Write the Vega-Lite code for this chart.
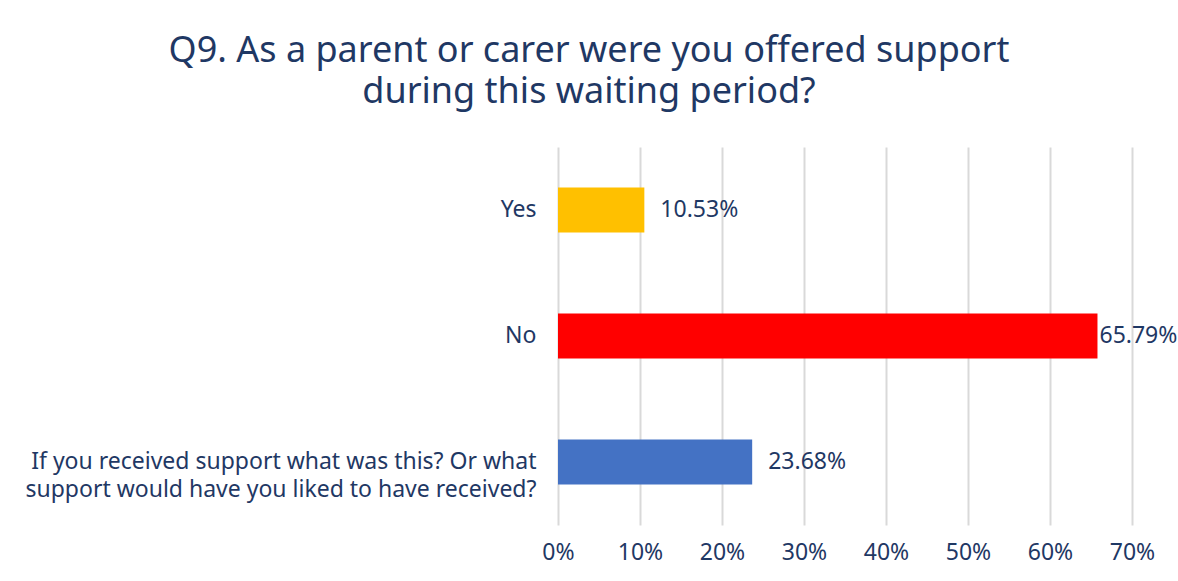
{
  "$schema": "https://vega.github.io/schema/vega-lite/v6.json",
  "autosize": {"type": "none"},
  "width": 574,
  "height": 378,
  "padding": {"left": 558, "top": 147, "right": 46, "bottom": 56},
  "background": "white",
  "title": {
    "text": ["Q9. As a parent or carer were you offered support", "during this waiting period?"],
    "anchor": "middle",
    "frame": "group",
    "dx": -256,
    "offset": 8,
    "font": "Noto Sans",
    "fontSize": 36,
    "fontWeight": "normal",
    "color": "#1F3864",
    "lineHeight": 41,
    "baseline": "alphabetic"
  },
  "data": {
    "values": [
      {"answer": "Yes", "share": 0.1053, "label": "10.53%"},
      {"answer": "No", "share": 0.6579, "label": "65.79%"},
      {"answer": "If you received support what was this? Or what support would have you liked to have received?", "share": 0.2368, "label": "23.68%"}
    ]
  },
  "encoding": {
    "y": {
      "field": "answer",
      "type": "nominal",
      "sort": null,
      "title": null,
      "scale": {"paddingInner": 0.643, "paddingOuter": 0.3215},
      "axis": {
        "domain": false,
        "ticks": false,
        "labelPadding": 22,
        "labelFont": "Noto Sans",
        "labelFontSize": 23,
        "labelColor": "#1F3864",
        "labelLineHeight": 28,
        "labelLimit": 600,
        "labelExpr": "length(datum.value) > 40 ? ['If you received support what was this? Or what', 'support would have you liked to have received?'] : datum.value"
      }
    },
    "x": {
      "field": "share",
      "type": "quantitative",
      "title": null,
      "scale": {"domain": [0, 0.7]},
      "axis": {
        "format": ".0%",
        "values": [0, 0.1, 0.2, 0.3, 0.4, 0.5, 0.6, 0.7],
        "labelOverlap": false,
        "labelFlush": false,
        "domain": false,
        "ticks": false,
        "grid": true,
        "gridColor": "#D9D9D9",
        "gridWidth": 2,
        "labelPadding": 16,
        "labelFont": "Noto Sans",
        "labelFontSize": 23,
        "labelColor": "#1F3864"
      }
    }
  },
  "layer": [
    {
      "mark": {"type": "bar"},
      "encoding": {
        "color": {
          "field": "answer",
          "type": "nominal",
          "legend": null,
          "scale": {
            "domain": ["Yes", "No", "If you received support what was this? Or what support would have you liked to have received?"],
            "range": ["#FFC000", "#FF0000", "#4472C4"]
          }
        }
      }
    },
    {
      "transform": [{"filter": "datum.share < 0.6"}],
      "mark": {"type": "text", "align": "left", "baseline": "middle", "dx": 16, "font": "Noto Sans", "fontSize": 23, "color": "#1F3864"},
      "encoding": {
        "text": {"field": "label"}
      }
    },
    {
      "transform": [{"filter": "datum.share >= 0.6"}],
      "mark": {"type": "text", "align": "left", "baseline": "middle", "dx": 2, "font": "Noto Sans", "fontSize": 23, "color": "#1F3864"},
      "encoding": {
        "text": {"field": "label"}
      }
    }
  ],
  "config": {"view": {"stroke": null}}
}
